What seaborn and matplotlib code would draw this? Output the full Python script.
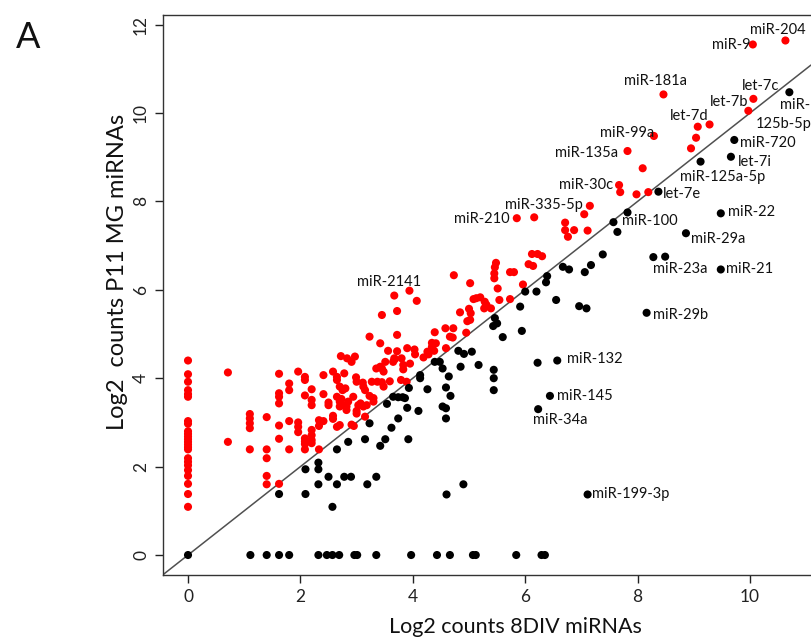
import matplotlib
matplotlib.use('Agg')
import matplotlib.pyplot as plt
import seaborn as sns
import pandas as pd

sns.set_theme(style='ticks')
plt.rcParams['font.family'] = ['Lato', 'DejaVu Sans']

# ---------------- data (log2 counts) ----------------
# red: enriched in P11 MG (above the diagonal)
red_points = [
    # x = 0 column
    (0, 4.40), (0, 4.09), (0, 3.92), (0, 3.73), (0, 3.64), (0, 3.58), (0, 3.03), (0, 2.97),
    (0, 2.80), (0, 2.74), (0, 2.68), (0, 2.62), (0, 2.56), (0, 2.50), (0, 2.44), (0, 2.39),
    (0, 2.19), (0, 2.11), (0, 2.03), (0, 1.92), (0, 1.79), (0, 1.61), (0, 1.38), (0, 1.09),
    (0.71, 4.13), (0.71, 2.56),
    (1.10, 3.19), (1.10, 3.09), (1.10, 2.98), (1.10, 2.87), (1.10, 2.39),
    (1.40, 3.12), (1.40, 2.39), (1.40, 2.19), (1.40, 1.79), (1.40, 1.60),
    (1.62, 4.10), (1.62, 3.66), (1.62, 3.58), (1.62, 3.43), (1.62, 2.93), (1.62, 2.63), (1.62, 1.61),
    (1.80, 3.88), (1.80, 3.73), (1.80, 3.03), (1.80, 2.39),
    (1.96, 4.15), (1.96, 3.00), (1.96, 2.90), (1.96, 2.78),
    (2.08, 4.03), (2.08, 3.96), (2.08, 3.61), (2.08, 2.64), (2.08, 2.57), (2.08, 2.51), (2.08, 2.39),
    (2.20, 3.75), (2.20, 3.51), (2.20, 3.39), (2.20, 2.83), (2.20, 2.71), (2.20, 2.60), (2.20, 2.53),
    (2.33, 3.05), (2.33, 2.92), (2.33, 2.39),
    (2.41, 4.07), (2.41, 3.64), (2.41, 3.03),
    (2.50, 3.45), (2.50, 3.39),
    (2.58, 4.15), (2.58, 3.15), (2.58, 3.08),
    (2.65, 4.03), (2.65, 3.96), (2.65, 3.58), (2.65, 2.90),
    (2.70, 3.81), (2.70, 3.47), (2.70, 3.36), (2.70, 2.94), (2.72, 4.50), (2.75, 3.73),
    (2.83, 4.45), (2.91, 4.37), (2.97, 4.49), (2.78, 4.11), (2.80, 3.77),
    (2.99, 4.02), (3.00, 3.92), (3.27, 3.92), (3.37, 3.92), (3.45, 3.91), (3.48, 3.81), (3.59, 3.93),
    (3.11, 3.90), (3.12, 3.81), (3.15, 3.73), (3.79, 3.96), (3.89, 3.92),
    (2.73, 3.53), (2.73, 3.42), (2.82, 3.36), (2.85, 3.47), (2.94, 3.58),
    (3.23, 3.60), (3.30, 3.47), (3.30, 3.55), (3.07, 3.43), (3.12, 3.36), (3.03, 3.39), (3.18, 3.39),
    (2.82, 3.28), (3.00, 3.26), (2.91, 2.95), (2.95, 2.92), (3.15, 3.13), (3.00, 3.20),
    (3.23, 4.94), (3.72, 4.98), (3.42, 4.79), (3.56, 4.62), (3.72, 4.61),
    (3.90, 4.68), (4.03, 4.65), (4.04, 4.54), (4.19, 4.47), (4.26, 4.60), (4.28, 4.54),
    (3.67, 4.45), (3.80, 4.45), (3.83, 4.30), (3.83, 4.20), (3.95, 4.33),
    (3.42, 4.26), (3.51, 4.37), (3.35, 4.22), (3.45, 4.22), (3.48, 4.15), (3.65, 4.37), (3.68, 4.43),
    (3.45, 5.43), (3.72, 5.52), (3.67, 5.87), (3.94, 5.98), (4.07, 5.75),
    (4.34, 4.80), (4.41, 4.79), (4.34, 4.71), (4.38, 4.62),
    (4.39, 5.04), (4.58, 5.13), (4.72, 5.13), (4.66, 4.94), (4.71, 4.92), (4.59, 4.68), (4.95, 5.03),
    (4.73, 6.33), (5.02, 6.15),
    (4.84, 5.49), (5.00, 5.57), (5.03, 5.47), (5.02, 5.32), (4.97, 5.29),
    (5.08, 5.79), (5.13, 5.81), (5.20, 5.83), (5.28, 5.73), (5.31, 5.66), (5.27, 5.58), (5.39, 5.58),
    (5.54, 5.77), (5.73, 5.79),
    (5.48, 6.61), (5.46, 6.51), (5.45, 6.37), (5.45, 6.26), (5.73, 6.40), (5.80, 6.40),
    (5.96, 6.12), (5.51, 6.03), (6.06, 6.58), (6.14, 6.54), (6.12, 6.81), (6.22, 6.81), (6.30, 6.76),
    (5.85, 7.62), (6.16, 7.64),
    (6.71, 7.52), (6.71, 7.35), (6.76, 7.20), (6.87, 7.35), (7.11, 7.34), (7.05, 7.71), (7.15, 7.90),
    (7.67, 8.37), (7.69, 8.21), (7.98, 8.16), (8.19, 8.21),
    (7.82, 9.14), (8.09, 8.75), (8.29, 9.48), (8.46, 10.42),
    (8.95, 9.20), (9.04, 9.44), (9.07, 9.69), (9.28, 9.74),
    (9.97, 10.05), (10.06, 10.32), (10.05, 11.55), (10.63, 11.64),
]

# black: not enriched (on/below the diagonal)
black_points = [
    (0, 0), (1.11, 0), (1.40, 0), (1.62, 0), (1.80, 0), (2.32, 0), (2.47, 0), (2.57, 0), (2.69, 0),
    (2.96, 0), (3.01, 0), (3.35, 0), (3.97, 0), (4.43, 0), (4.66, 0), (5.07, 0), (5.12, 0),
    (5.84, 0), (6.29, 0), (6.35, 0),
    (1.62, 1.38), (2.09, 1.94), (2.09, 1.38), (2.32, 2.09), (2.32, 1.94), (2.32, 1.60),
    (2.50, 1.77), (2.57, 1.09), (2.65, 2.39), (2.65, 1.60), (2.85, 2.56), (2.78, 1.77), (2.90, 1.77),
    (3.19, 1.60), (3.35, 1.77), (3.15, 2.62), (3.51, 2.62), (3.42, 2.47), (3.92, 2.62),
    (3.23, 2.98), (3.62, 2.88), (3.54, 3.42), (3.65, 3.58), (3.74, 3.57), (3.82, 3.57), (3.86, 3.55),
    (3.90, 3.33), (4.10, 3.26), (3.74, 3.09), (3.93, 3.78), (4.26, 3.75), (4.13, 4.07), (4.13, 4.00),
    (4.39, 4.37), (4.48, 4.37), (4.53, 4.22), (4.64, 4.04), (4.59, 3.79), (4.67, 3.60),
    (4.53, 3.36), (4.59, 3.32), (4.59, 3.09), (4.60, 1.37), (4.90, 1.60),
    (4.81, 4.62), (4.91, 4.55), (5.05, 4.60), (4.85, 4.26), (5.17, 4.30),
    (5.44, 4.19), (5.44, 4.00), (5.44, 3.73),
    (5.46, 5.36), (5.50, 5.24), (5.43, 5.18), (5.60, 4.93), (5.94, 5.07), (5.91, 5.62),
    (6.00, 5.96), (6.20, 5.96), (6.22, 4.35), (6.37, 6.17), (6.39, 6.31), (6.55, 5.77),
    (6.67, 6.52), (6.78, 6.46), (6.96, 5.63), (7.09, 5.58), (7.06, 6.40), (7.17, 6.56), (7.38, 6.80),
    (7.57, 7.53), (7.64, 7.31), (7.82, 7.75), (8.37, 8.22), (9.12, 8.90), (9.66, 9.01), (9.72, 9.39),
    (10.70, 10.47), (9.48, 7.73), (8.86, 7.28), (8.28, 6.74), (8.49, 6.75), (9.48, 6.46), (8.16, 5.48),
    (6.57, 4.40), (6.44, 3.60), (6.23, 3.30), (7.11, 1.37),
]

# miRNA labels (text centre, in data units)
label_names = ["miR-204", "miR-9", "miR-181a", "let-7c", "let-7b", "let-7d", "miR-99a",
               "miR-135a", "miR-720", "let-7i", "miR-125a-5p", "let-7e", "miR-30c",
               "miR-335-5p", "miR-210", "miR-100", "miR-22", "miR-29a", "miR-23a", "miR-21",
               "miR-29b", "miR-2141", "miR-132", "miR-145", "miR-34a", "miR-199-3p"]
label_x = [10.50, 9.66, 8.31, 10.18, 9.63, 8.91, 7.81, 7.10, 10.32, 10.09, 9.52, 8.79, 7.09,
           6.33, 5.23, 8.22, 10.02, 9.43, 8.75, 10.00, 8.76, 3.58, 7.24, 7.06, 6.62, 7.87]
label_y = [11.88, 11.54, 10.72, 10.61, 10.25, 9.93, 9.55, 9.10, 9.32, 8.89, 8.55, 8.17, 8.37,
           7.92, 7.60, 7.56, 7.76, 7.15, 6.47, 6.47, 5.43, 6.18, 4.43, 3.60, 3.05, 1.38]

x_ticks = [0, 2, 4, 6, 8, 10]
y_ticks = [0, 2, 4, 6, 8, 10, 12]

# ---------------- build data frame ----------------
rows = [(x, y, 'up') for x, y in red_points] + [(x, y, 'other') for x, y in black_points]
df = pd.DataFrame(rows, columns=['x', 'y', 'grp'])

W, H = 811, 643
fig = plt.figure(figsize=(W / 100, H / 100), dpi=100)
ax = fig.add_axes([163 / W, 1 - 575 / H, 1 - 163 / W, (575 - 15) / H])

ax.axline((0, 0), slope=1, color='#505050', lw=1.1, zorder=1)
sns.scatterplot(data=df, x='x', y='y', hue='grp', palette={'up': '#ff0000', 'other': '#000000'},
                s=34, linewidth=0, legend=False, ax=ax, zorder=2)

ax.set_xlim(-0.445, 11.085)
ax.set_ylim(-0.452, 12.217)
ax.set_xticks(x_ticks)
ax.set_yticks(y_ticks)
ax.set_xticklabels([str(t) for t in x_ticks])
ax.set_yticklabels([str(t) for t in y_ticks], rotation=90, va='center')
ax.tick_params(direction='out', length=6, width=1, colors='#222222', labelsize=12.5, pad=4)
ax.set_xlabel('')
ax.set_ylabel('')
for s in ['left', 'bottom', 'top']:
    ax.spines[s].set_color('#333333')
    ax.spines[s].set_linewidth(1.0)
ax.spines['right'].set_visible(False)

for name, lx, ly in zip(label_names, label_x, label_y):
    ax.text(lx, ly, name, ha='center', va='center', fontsize=10.5, color='#111111')

# split label for miR-125b-5p at the right edge
ax.text(10.53, 10.18, 'miR-', ha='left', va='center', fontsize=10.5, color='#111111', clip_on=False)
ax.text(10.11, 9.75, '125b-5p', ha='left', va='center', fontsize=10.5, color='#111111', clip_on=False)

fig.text(515 / W, 1 - 627 / H, 'Log2 counts 8DIV miRNAs', ha='center', va='center', fontsize=15.5, color='#111111')
fig.text(118 / W, 1 - 272 / H, 'Log2  counts P11 MG miRNAs', ha='center', va='center', rotation=90,
         fontsize=17, color='#111111')
fig.text(28 / W, 1 - 38 / H, 'A', ha='center', va='center', fontsize=26, color='#111111')

fig.savefig('out.png', dpi=100)
